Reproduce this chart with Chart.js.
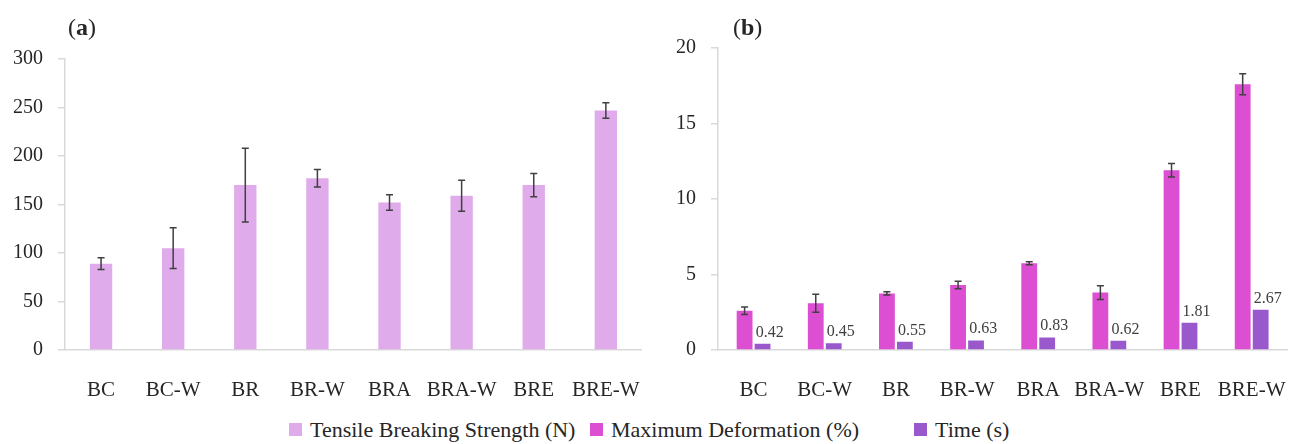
<!DOCTYPE html>
<html>
<head>
<meta charset="utf-8">
<script src="https://cdn.jsdelivr.net/npm/chart.js@4"></script>
<style>
    body { margin: 0; background: #fff; width: 1306px; height: 444px; position: relative; overflow: hidden; font-family: "Liberation Serif", serif; color: #262626; }
    canvas { position: absolute; top: 0; }
    #chartA { left: 0; }
    #chartB { left: 653px; }
    .panel-title { position: absolute; top: 12px; font-size: 24px; line-height: 30px; }
    .legend { position: absolute; top: 418px; font-size: 22px; line-height: 24px; white-space: nowrap; }
    .legend i { position: absolute; left: 0; top: 5px; width: 13px; height: 13px; }
    .legend span { position: absolute; left: 21px; top: 0; }
</style>
</head>
<body>
<canvas id="chartA" width="660" height="400"></canvas>
<canvas id="chartB" width="653" height="400"></canvas>
<div class="panel-title" style="left:68px">(<b>a</b>)</div>
<div class="panel-title" style="left:733px">(<b>b</b>)</div>
<div id="legend"></div>
<script>
const categories = ['BC', 'BC-W', 'BR', 'BR-W', 'BRA', 'BRA-W', 'BRE', 'BRE-W'];
const seriesNames = ['Tensile Breaking Strength (N)', 'Maximum Deformation (%)', 'Time (s)'];
const seriesColors = ['#e0abeb', '#dc4fd3', '#9a58cd'];

const strength = [89, 105, 170, 177, 152, 159, 170, 247];
const strengthErr = [6, 21, 38, 9, 8, 16, 12, 8];

const deformation = [2.6, 3.1, 3.75, 4.3, 5.75, 3.8, 11.9, 17.6];
const deformationErr = [0.25, 0.6, 0.1, 0.25, 0.1, 0.45, 0.45, 0.7];

const time = [0.42, 0.45, 0.55, 0.63, 0.83, 0.62, 1.81, 2.67];

const ticksA = [0, 50, 100, 150, 200, 250, 300];
const ticksB = [0, 5, 10, 15, 20];

const legendX = [289, 590, 914];

const axisColor = '#d9d9d9';
const textColor = '#262626';

// error bars from dataset.errors, drawn through the y scale
const errorBars = {
    id: 'errorBars',
    afterDatasetsDraw(chart) {
        const ctx = chart.ctx;
        const y = chart.scales.y;
        chart.data.datasets.forEach((ds, i) => {
            if (!ds.errors) return;
            chart.getDatasetMeta(i).data.forEach((bar, j) => {
                const v = ds.data[j], e = ds.errors[j];
                const top = y.getPixelForValue(v + e);
                const bot = y.getPixelForValue(v - e);
                ctx.save();
                ctx.strokeStyle = '#404040';
                ctx.lineWidth = 1.5;
                ctx.beginPath();
                ctx.moveTo(bar.x, top); ctx.lineTo(bar.x, bot);
                ctx.moveTo(bar.x - 3.5, top); ctx.lineTo(bar.x + 3.5, top);
                ctx.moveTo(bar.x - 3.5, bot); ctx.lineTo(bar.x + 3.5, bot);
                ctx.stroke();
                ctx.restore();
            });
        });
    }
};

// value labels above bars for datasets flagged showValues
const valueLabels = {
    id: 'valueLabels',
    afterDatasetsDraw(chart) {
        const ctx = chart.ctx;
        chart.data.datasets.forEach((ds, i) => {
            if (!ds.showValues) return;
            chart.getDatasetMeta(i).data.forEach((bar, j) => {
                ctx.save();
                ctx.font = '16px "Liberation Serif", serif';
                ctx.fillStyle = '#404040';
                ctx.textAlign = 'left';
                ctx.textBaseline = 'alphabetic';
                ctx.fillText(ds.data[j].toFixed(2), bar.x - bar.width / 2 + 1, bar.y - 7);
                ctx.restore();
            });
        });
    }
};

function buildOptions(ticks, padTop, padRight) {
    return {
        responsive: false,
        animation: false,
        devicePixelRatio: 1,
        layout: { padding: { top: padTop, right: padRight, left: 0, bottom: 0 } },
        plugins: { legend: { display: false }, tooltip: { enabled: false } },
        scales: {
            x: {
                grid: { display: false },
                border: { display: true, color: axisColor, width: 1.5 },
                ticks: { color: textColor, padding: 20, font: { family: '"Liberation Serif", serif', size: 21 }, maxRotation: 0, autoSkip: false },
                afterFit(scale) { scale.height = 50; }
            },
            y: {
                min: ticks[0],
                max: ticks[ticks.length - 1],
                afterBuildTicks(scale) { scale.ticks = ticks.map(v => ({ value: v })); },
                grid: { drawOnChartArea: false, drawTicks: true, tickLength: 7, color: axisColor, lineWidth: 1.5 },
                border: { display: true, color: axisColor, width: 1.5 },
                ticks: { color: textColor, padding: 15, font: { family: '"Liberation Serif", serif', size: 20 } },
                afterFit(scale) { scale.width = 65; }
            }
        }
    };
}

new Chart(document.getElementById('chartA'), {
    type: 'bar',
    data: {
        labels: categories,
        datasets: [{
            label: seriesNames[0],
            data: strength,
            errors: strengthErr,
            backgroundColor: seriesColors[0],
            barPercentage: 0.31,
            categoryPercentage: 1
        }]
    },
    options: buildOptions(ticksA, 59, 5),
    plugins: [errorBars]
});

new Chart(document.getElementById('chartB'), {
    type: 'bar',
    data: {
        labels: categories,
        datasets: [{
            label: seriesNames[1],
            data: deformation,
            errors: deformationErr,
            backgroundColor: seriesColors[1],
            barPercentage: 0.88,
            categoryPercentage: 0.505
        }, {
            label: seriesNames[2],
            data: time,
            showValues: true,
            backgroundColor: seriesColors[2],
            barPercentage: 0.88,
            categoryPercentage: 0.505
        }]
    },
    options: buildOptions(ticksB, 48, 8),
    plugins: [errorBars, valueLabels]
});

const legendEl = document.getElementById('legend');
seriesNames.forEach((name, i) => {
    legendEl.insertAdjacentHTML('beforeend',
        '<div class="legend" style="left:' + legendX[i] + 'px"><i style="background:' + seriesColors[i] + '"></i><span>' + name + '</span></div>');
});
</script>
</body>
</html>
